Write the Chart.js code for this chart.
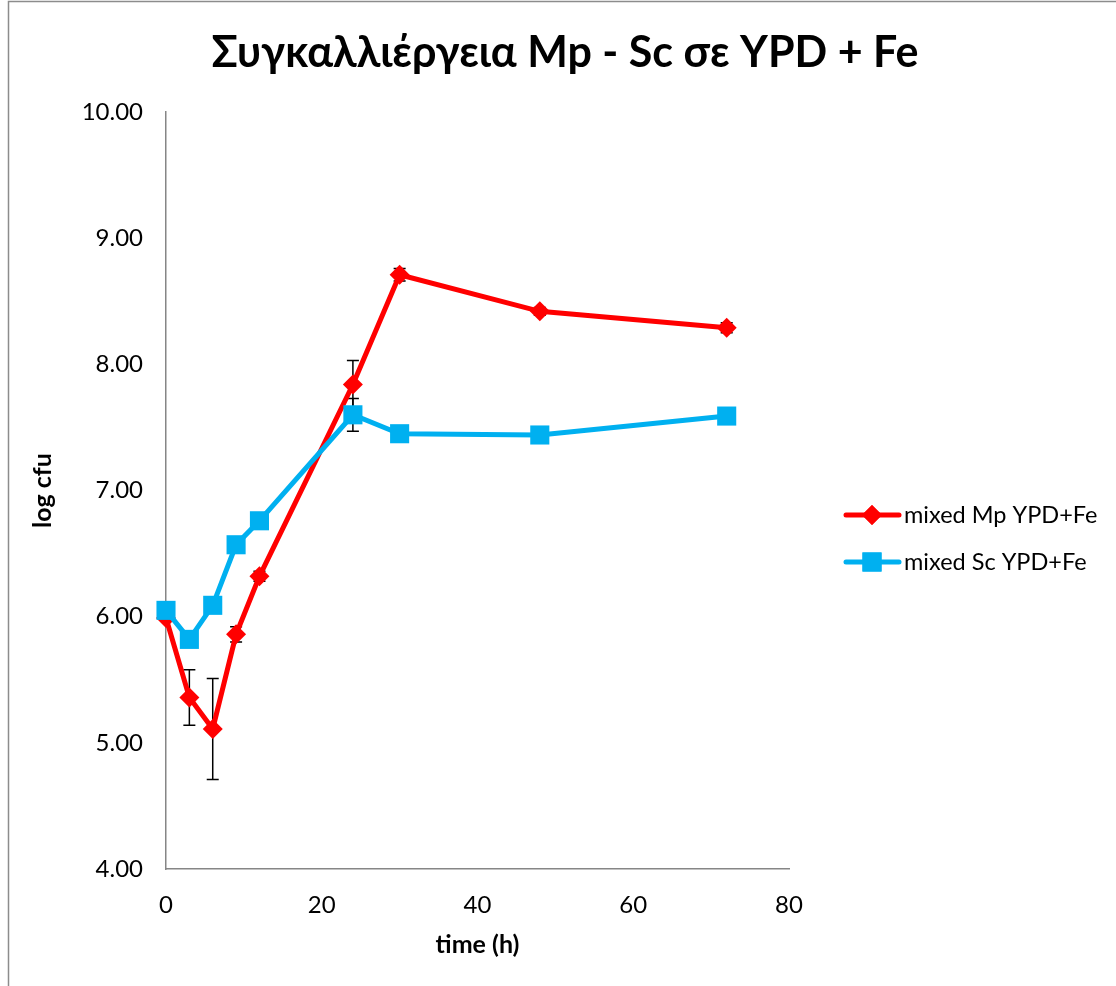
<!DOCTYPE html>
<html>
<head>
<meta charset="utf-8">
<script src="https://cdn.jsdelivr.net/npm/chart.js@4.4.1/dist/chart.umd.min.js"></script>
<style>
  body { margin: 0; background: #fff; }
  #wrap { width: 1116px; height: 986px; position: relative; }
</style>
</head>
<body>
<div id="wrap"><canvas id="myChart" width="1116" height="986"></canvas></div>
<script>
// values
const timeH = [0, 3, 6, 9, 12, 24, 30, 48, 72];
const mpLog = [5.99, 5.36, 5.11, 5.86, 6.32, 7.84, 8.71, 8.42, 8.29];
const mpErr = [0.02, 0.22, 0.40, 0.06, 0.04, 0.19, 0.05, 0.03, 0.04];
const scLog = [6.05, 5.82, 6.09, 6.57, 6.76, 7.60, 7.45, 7.44, 7.59];
const scErr = [0.03, 0.03, 0.03, 0.04, 0.03, 0.13, 0.03, 0.03, 0.03];
const seriesNames = ['mixed Mp YPD+Fe', 'mixed Sc YPD+Fe'];
const titleText = 'Συγκαλλιέργεια Mp - Sc σε YPD + Fe';

const FONT = "Lato, 'Open Sans', sans-serif";
const RED = '#ff0000';
const BLUE = '#00b0f0';
const AXIS = '#868686';

function pts(xs, ys) {
  return xs.map((x, i) => ({ x: x, y: ys[i] }));
}

const errorBars = {
  id: 'errorBars',
  beforeDatasetsDraw(chart) {
    const ctx = chart.ctx;
    const xs = chart.scales.x, ys = chart.scales.y;
    const errs = [mpErr, scErr];
    ctx.save();
    ctx.strokeStyle = '#000';
    ctx.lineWidth = 1.5;
    chart.data.datasets.forEach((ds, d) => {
      ds.data.forEach((p, i) => {
        const e = errs[d][i];
        const px = xs.getPixelForValue(p.x);
        const top = ys.getPixelForValue(p.y + e);
        const bot = ys.getPixelForValue(p.y - e);
        ctx.beginPath();
        ctx.moveTo(px, top); ctx.lineTo(px, bot);
        ctx.moveTo(px - 6, top); ctx.lineTo(px + 6, top);
        ctx.moveTo(px - 6, bot); ctx.lineTo(px + 6, bot);
        ctx.stroke();
      });
    });
    ctx.restore();
  }
};

const frameTitleLegend = {
  id: 'frameTitleLegend',
  beforeDraw(chart) {
    const ctx = chart.ctx;
    ctx.save();
    ctx.fillStyle = '#fff';
    ctx.fillRect(0, 0, chart.width, chart.height);
    ctx.strokeStyle = '#8c8c8c';
    ctx.lineWidth = 1.5;
    ctx.strokeRect(8.5, 1.5, 1200, 1200);
    ctx.restore();
  },
  afterDraw(chart) {
    const ctx = chart.ctx;
    ctx.save();
    // title, centred over the whole chart box
    ctx.fillStyle = '#000';
    ctx.font = 'bold 43px ' + FONT;
    ctx.textAlign = 'center';
    ctx.textBaseline = 'middle';
    ctx.fillText(titleText, 565, 53);
    // legend on the right
    chart.data.datasets.forEach((ds, i) => {
      const y = 515 + i * 47;
      ctx.strokeStyle = ds.borderColor;
      ctx.lineWidth = 5;
      ctx.lineCap = 'round';
      ctx.beginPath();
      ctx.moveTo(846, y); ctx.lineTo(899, y);
      ctx.stroke();
      ctx.fillStyle = ds.borderColor;
      Chart.helpers.drawPoint(ctx, { pointStyle: ds.pointStyle, radius: ds.pointRadius, rotation: 0, borderWidth: 0 }, 872, y);
      ctx.fill();
      ctx.fillStyle = '#000';
      ctx.font = '23.5px ' + FONT;
      ctx.textBaseline = 'middle';
      ctx.textAlign = 'left';
      ctx.fillText(ds.label, 904, y);
    });
    ctx.restore();
  }
};

new Chart(document.getElementById('myChart').getContext('2d'), {
  type: 'scatter',
  data: {
    datasets: [{
      label: seriesNames[0],
      data: pts(timeH, mpLog),
      order: 1,
      clip: false,
      showLine: true,
      borderColor: RED,
      backgroundColor: RED,
      borderWidth: 5,
      pointStyle: 'rectRot',
      pointRadius: 10,
      pointBorderWidth: 0,
      pointHoverRadius: 10
    }, {
      label: seriesNames[1],
      data: pts(timeH, scLog),
      order: 0,
      clip: false,
      showLine: true,
      borderColor: BLUE,
      backgroundColor: BLUE,
      borderWidth: 5,
      pointStyle: 'rect',
      pointRadius: 13.5,
      pointBorderWidth: 0,
      pointHoverRadius: 13.5
    }]
  },
  options: {
    responsive: false,
    animation: false,
    layout: { padding: { left: 8, right: 327, top: 112, bottom: 0 } },
    plugins: {
      legend: { display: false },
      tooltip: { enabled: false },
      title: { display: false }
    },
    scales: {
      x: {
        type: 'linear',
        min: 0, max: 80,
        afterFit(scale) { scale.height = 117; },
        grid: { display: false, drawTicks: false },
        border: { display: true, color: AXIS, width: 1.5 },
        ticks: { stepSize: 20, color: '#000', padding: 22, font: { family: FONT, size: 24 } },
        title: { display: true, text: 'time (h)', color: '#000', font: { family: FONT, size: 25, weight: 'bold' }, padding: { top: 0, bottom: 26 } }
      },
      y: {
        type: 'linear',
        min: 4, max: 10,
        afterFit(scale) { scale.width = 158; },
        grid: { display: false, drawTicks: false },
        border: { display: true, color: AXIS, width: 1.5 },
        ticks: { stepSize: 1, color: '#000', padding: 23, font: { family: FONT, size: 24 }, callback: v => v.toFixed(2) },
        title: { display: true, text: 'log cfu', color: '#000', font: { family: FONT, size: 25, weight: 'bold' }, padding: { top: 20, bottom: 0 } }
      }
    }
  },
  plugins: [errorBars, frameTitleLegend]
});
</script>
</body>
</html>
